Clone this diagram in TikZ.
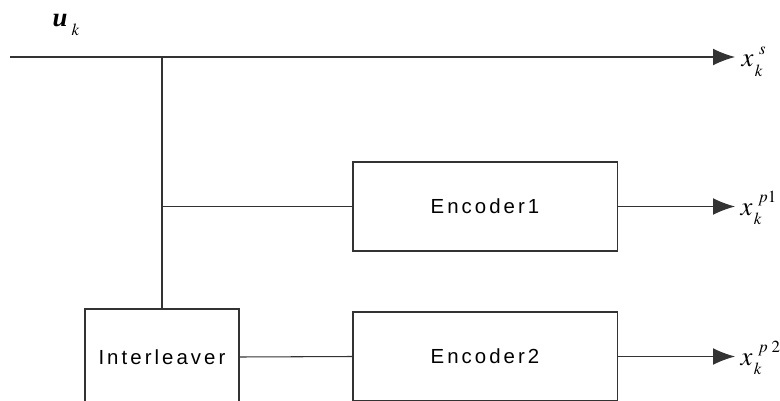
\documentclass[tikz,border=0pt]{standalone}
\usepackage{mathptmx}
\usepackage{fontspec}
\setmainfont{Liberation Serif}
\newfontfamily\blockfont[LetterSpace=15]{Liberation Sans}
\usetikzlibrary{arrows.meta}
% small index set beside a big symbol
\newcommand{\idx}[1]{{\fontsize{12}{14}\selectfont$#1$}}
\newcommand{\outsig}[3]{$#1$\kern1pt\rlap{\raisebox{-6.5pt}{\idx{#2}}}\kern3pt\raisebox{9pt}{\idx{#3}}}

\begin{document}
\begin{tikzpicture}[x=0.025cm,y=-0.025cm,line width=0.75pt,
  >={Latex[length=5.5mm,width=4.2mm]},
  blk/.style={draw=black!80,inner sep=0pt,font=\blockfont\fontsize{14.5}{17}\selectfont},
  lbl/.style={anchor=base west,inner sep=0pt,font=\fontsize{19}{22}\selectfont}]
  \useasboundingbox (0,0) rectangle (780,400);
  \clip (0,0) rectangle (780,400);
  % the three blocks (the lower two run off the bottom edge)
  \node[blk,minimum width=6.6cm,minimum height=2.225cm] (enc1) at (485,206.5) {Encoder1};
  \node[blk,minimum width=6.6cm,minimum height=2.225cm] (enc2) at (485,356.5) {Encoder2};
  \node[blk,minimum width=3.85cm,minimum height=2.4cm] (intl) at (162,357) {Interleaver};
  % input line and its split point
  \coordinate (in) at (10,57);
  \coordinate (split) at (intl.north |- in);
  \coordinate (ts) at (735,57);
  \coordinate (tp1) at (735,0 |- enc1.east);
  \coordinate (tp2) at (735,0 |- enc2.east);
  \node[lbl] (uk) at (52,27) {\textbf{\textit{u}}\kern3pt\raisebox{-6pt}{\idx{k}}};
  \draw[black!80,->] (in) -- (ts);
  \draw[black!80] (split) -- (intl.north);
  \draw[black!80] (intl.north |- enc1.west) -- (enc1.west);
  \draw[black!80] (intl.east) -- (enc2.west);
  \draw[black!80,->] (enc1.east) -- (tp1);
  \draw[black!80,->] (enc2.east) -- (tp2);
  % outputs
  \node[lbl] (xs) at (741,67) {\outsig{x}{k}{s}};
  \node[lbl] (xp1) at (740,215) {\outsig{x}{k}{p1}};
  \node[lbl] (xp2) at (740,365) {\outsig{x}{k}{p\;2}};
\end{tikzpicture}
\end{document}
